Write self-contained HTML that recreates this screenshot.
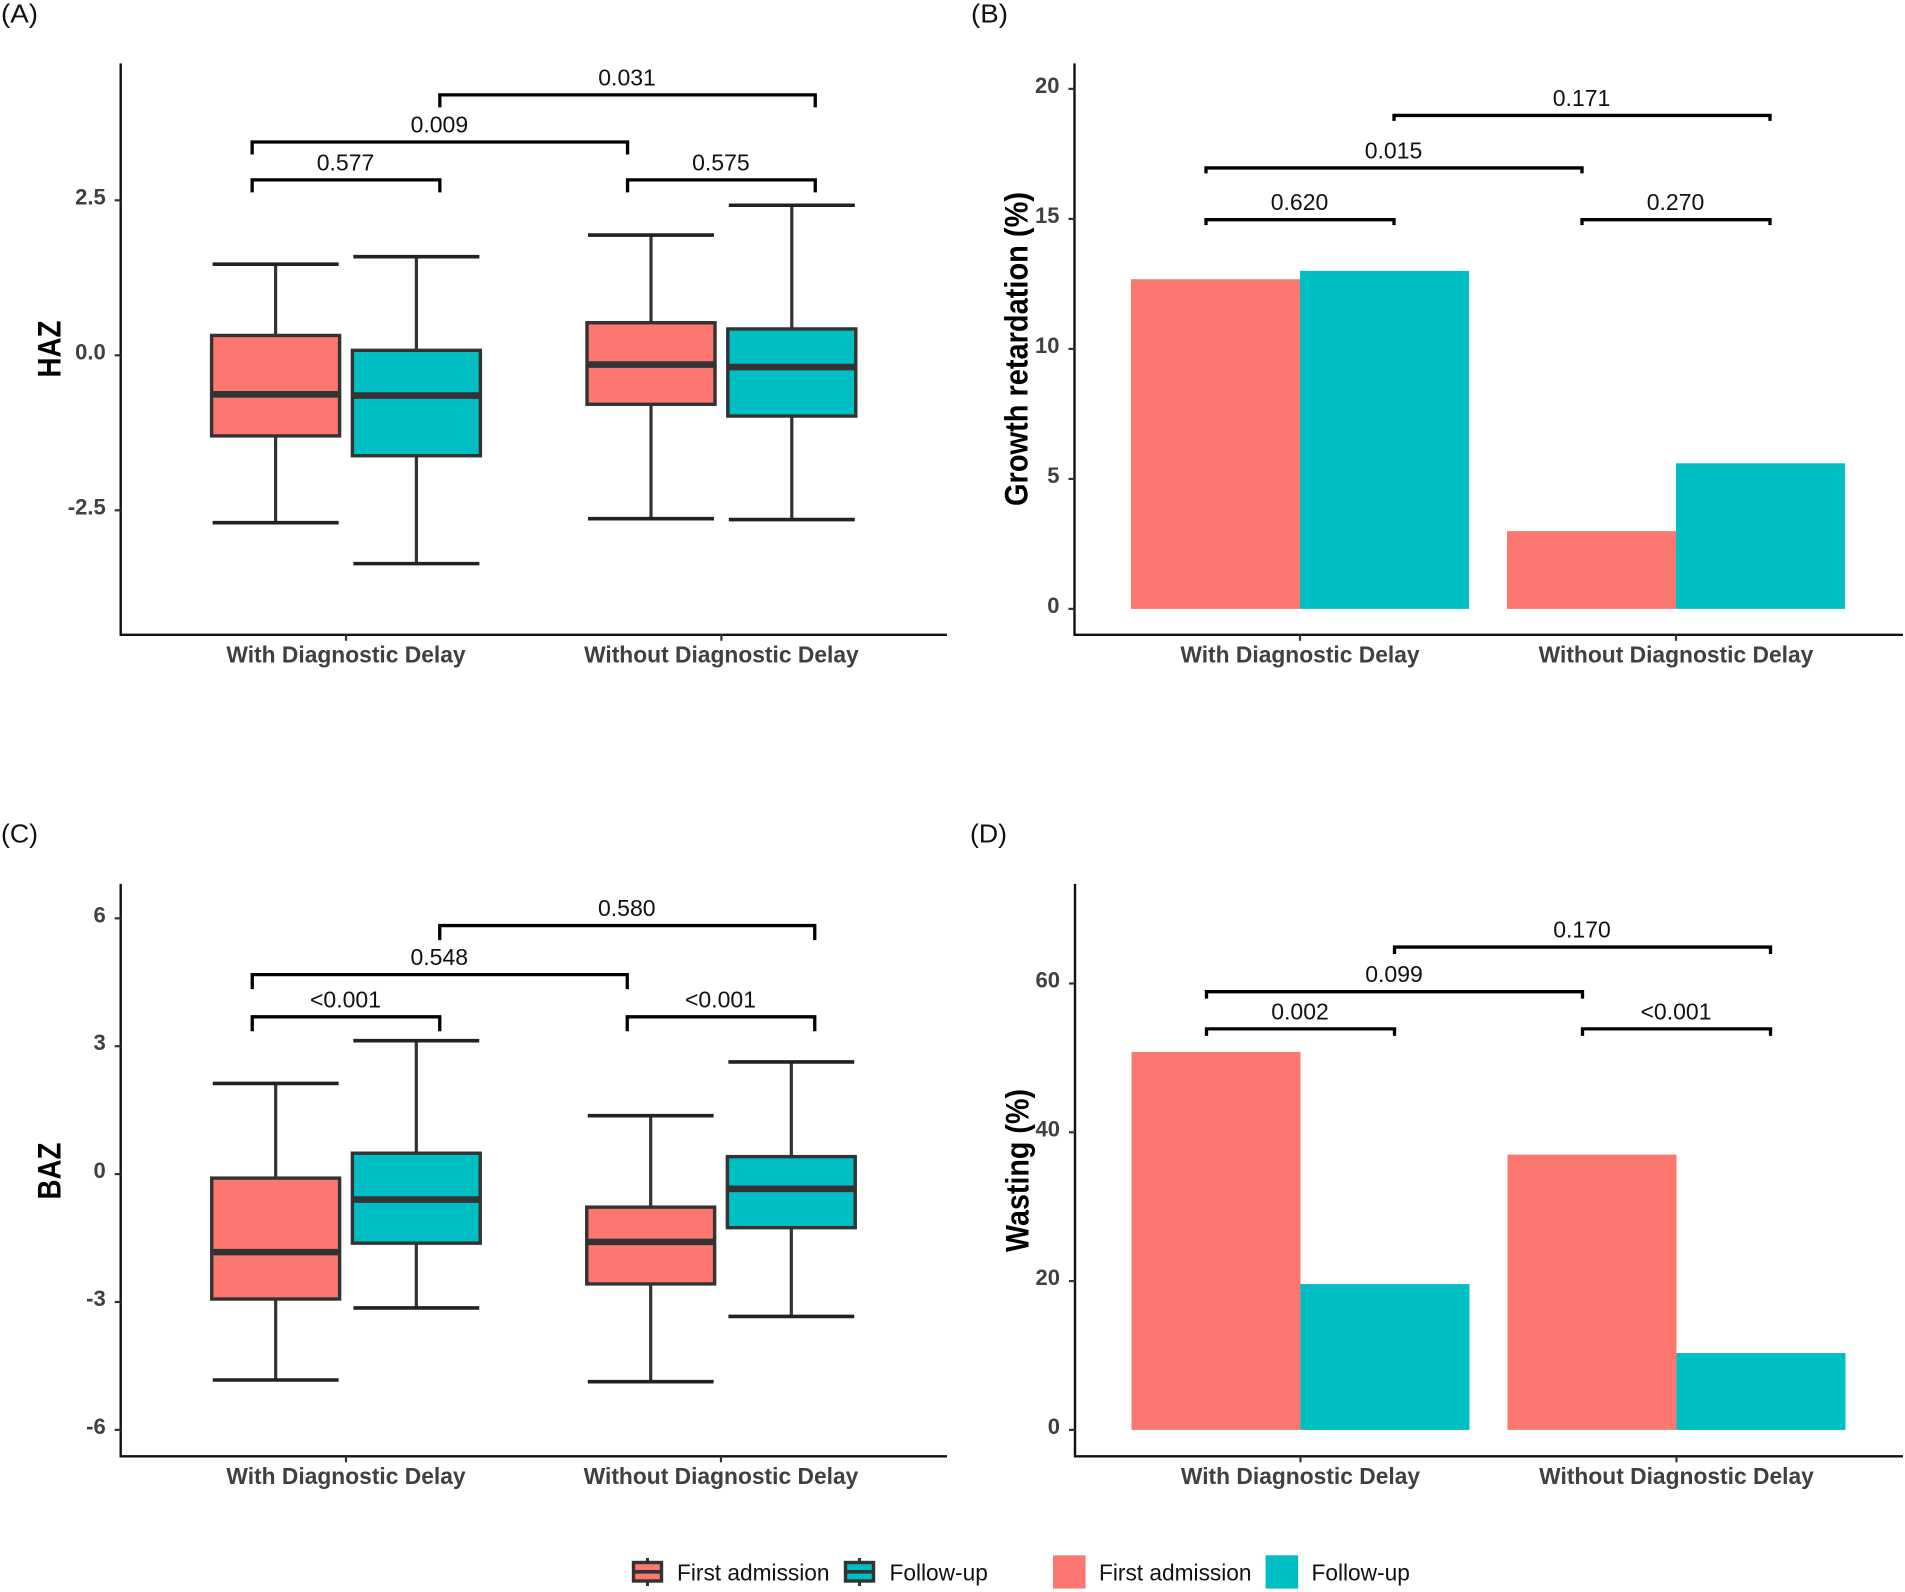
<!DOCTYPE html>
<html lang="en">
<head>
<meta charset="utf-8">
<title>Diagnostic delay anthropometry panels</title>
<style>
html,body{margin:0;padding:0;background:#fff;}
svg{display:block;}
text{font-family:"Liberation Sans",Arial,sans-serif;}
</style>
</head>
<body>
<svg id="figure" xmlns="http://www.w3.org/2000/svg" width="1905" height="1592" viewBox="0 0 1905 1592">
  <rect x="0" y="0" width="1905" height="1592" fill="#ffffff"/>
</svg>
<script>
// ---- shared categories and series ----
const categories = ["With Diagnostic Delay", "Without Diagnostic Delay"];
const seriesNames = ["First admission", "Follow-up"];
const seriesColors = ["#FB7770", "#00BFC4"];

// ---- Panel A: HAZ boxplots (order: with/first, with/follow, without/first, without/follow) ----
const hazWhiskerHigh = [1.47, 1.59, 1.94, 2.42];
const hazQ3 = [0.32, 0.08, 0.525, 0.425];
const hazMedian = [-0.63, -0.65, -0.15, -0.19];
const hazQ1 = [-1.30, -1.62, -0.79, -0.98];
const hazWhiskerLow = [-2.70, -3.36, -2.635, -2.65];
const hazTicks = [2.5, 0, -2.5];
const hazTickLabels = ["2.5", "0.0", "-2.5"];
const hazBracketLabels = ["0.031", "0.009", "0.577", "0.575"];
const hazBracketHeights = [4.2, 3.44, 2.83, 2.83];

// ---- Panel B: growth retardation bars ----
const growthFirst = [12.68, 2.99];
const growthFollow = [13.0, 5.6];
const growthTicks = [20, 15, 10, 5, 0];
const growthTickLabels = ["20", "15", "10", "5", "0"];
const growthBracketLabels = ["0.171", "0.015", "0.620", "0.270"];
const growthBracketHeights = [18.98, 16.96, 14.97, 14.97];

// ---- Panel C: BAZ boxplots ----
const bazWhiskerHigh = [2.126, 3.13, 1.37, 2.63];
const bazQ3 = [-0.094, 0.49, -0.775, 0.41];
const bazMedian = [-1.83, -0.597, -1.59, -0.346];
const bazQ1 = [-2.93, -1.62, -2.576, -1.257];
const bazWhiskerLow = [-4.83, -3.14, -4.87, -3.34];
const bazTicks = [6, 3, 0, -3, -6];
const bazTickLabels = ["6", "3", "0", "-3", "-6"];
const bazBracketLabels = ["0.580", "0.548", "<0.001", "<0.001"];
const bazBracketHeights = [5.83, 4.68, 3.69, 3.69];

// ---- Panel D: wasting bars ----
const wastingFirst = [50.8, 37.0];
const wastingFollow = [19.6, 10.33];
const wastingTicks = [60, 40, 20, 0];
const wastingTickLabels = ["60", "40", "20", "0"];
const wastingBracketLabels = ["0.170", "0.099", "0.002", "<0.001"];
const wastingBracketHeights = [64.9, 58.9, 53.9, 53.9];

// Bracket spans in category units (shared by all panels)
const bracketStarts = [1.25, 0.75, 0.75, 1.75];
const bracketEnds = [2.25, 1.75, 1.25, 2.25];

const SVG_NS = "http://www.w3.org/2000/svg";
const figure = document.getElementById("figure");
const DARK = "#333333";
const TICK_TEXT = "#404040";

function make(tag, attrs, parent) {
  const el = document.createElementNS(SVG_NS, tag);
  for (const k in attrs) el.setAttribute(k, attrs[k]);
  (parent || figure).appendChild(el);
  return el;
}

function drawFrame(p, g) {
  const axisY = make("line", {x1: p.axisX, x2: p.axisX, y1: p.top, y2: p.bottom + 1, stroke: "#111111", "stroke-width": 2.4}, g);
  
  
  const axisX = make("line", {x1: p.axisX - 1, x2: p.right, y1: p.bottom, y2: p.bottom, stroke: "#111111", "stroke-width": 2.4}, g);
  
  

  p.ticks.forEach(function (t, i) {
    const y = p.yScale(t);
    const tick = make("line", {x1: p.axisX - 6, x2: p.axisX, y1: y, y2: y, stroke: DARK, "stroke-width": 2.2}, g);
    
    
    const label = make("text", {x: p.axisX - 15, y: y + 4, "text-anchor": "end", "font-size": 22, "font-weight": "bold", fill: TICK_TEXT}, g);
    label.textContent = p.tickLabels[i];
    
    
  });

  categories.forEach(function (c, i) {
    const x = p.xScale(i + 1);
    const tick = make("line", {x1: x, x2: x, y1: p.bottom, y2: p.bottom + 6, stroke: DARK, "stroke-width": 2.2}, g);
    
    
    const label = make("text", {x: x, y: p.bottom + 27.5, "text-anchor": "middle", "font-size": 22.8, "font-weight": "bold", fill: TICK_TEXT}, g);
    label.textContent = c;
    
    
  });

  const title = make("text", {
    transform: "translate(" + p.titleX + "," + p.titleY + ") rotate(-90)",
    "text-anchor": "middle", "font-size": 32, "font-weight": "bold", fill: "#000000",
    textLength: p.titleLen, lengthAdjust: "spacingAndGlyphs"
  }, g);
  title.textContent = p.title;
  
  

  const tag = make("text", {x: p.tagX, y: p.tagY, "font-size": 26, fill: "#111111", textLength: 37, lengthAdjust: "spacingAndGlyphs"}, g);
  tag.textContent = p.tag;
  
  
}

function drawBrackets(p, g, labels, heights) {
  labels.forEach(function (txt, i) {
    const x1 = p.xScale(bracketStarts[i]);
    const x2 = p.xScale(bracketEnds[i]);
    const y = p.yScale(heights[i]);
    const path = make("path", {
      d: "M" + x1 + " " + (y + p.tip) + "V" + y + "H" + x2 + "V" + (y + p.tip),
      fill: "none", stroke: "#000000", "stroke-width": 3.3
    }, g);
    
    
    const label = make("text", {x: (x1 + x2) / 2 - 0.5, y: y - 9.5, "text-anchor": "middle", "font-size": 23, fill: "#111111"}, g);
    label.textContent = txt;
    
    
  });
}

function drawBoxes(p, g, high, q3, med, q1, low) {
  const unit = p.xScale(2) - p.xScale(1);
  const half = 0.1705 * unit;
  high.forEach(function (_, i) {
    const group = Math.floor(i / 2);
    const series = i % 2;
    const cx = p.xScale(group + 1 + (series === 0 ? -0.1875 : 0.1875));
    const box = make("g", {}, g);
    
    
    const whisker = make("line", {x1: cx, x2: cx, y1: p.yScale(high[i]), y2: p.yScale(low[i]), stroke: DARK, "stroke-width": 3.2}, box);
    
    
    const capTop = make("line", {x1: cx - half + 1, x2: cx + half - 1, y1: p.yScale(high[i]), y2: p.yScale(high[i]), stroke: "#222222", "stroke-width": 3.6}, box);
    
    
    const capLow = make("line", {x1: cx - half + 1, x2: cx + half - 1, y1: p.yScale(low[i]), y2: p.yScale(low[i]), stroke: "#222222", "stroke-width": 3.6}, box);
    
    
    const rect = make("rect", {
      x: cx - half, y: p.yScale(q3[i]), width: half * 2, height: p.yScale(q1[i]) - p.yScale(q3[i]),
      fill: seriesColors[series], stroke: DARK, "stroke-width": 3.4
    }, box);
    
    
    const median = make("line", {x1: cx - half, x2: cx + half, y1: p.yScale(med[i]), y2: p.yScale(med[i]), stroke: DARK, "stroke-width": 6.6}, box);
    
    
  });
}

function drawBars(p, g, first, follow) {
  [first, follow].forEach(function (values, s) {
    values.forEach(function (v, i) {
      const x1 = p.xScale(i + 1 + (s === 0 ? -0.4495 : 0));
      const x2 = p.xScale(i + 1 + (s === 0 ? 0 : 0.4495));
      const bar = make("rect", {x: x1, y: p.yScale(v), width: x2 - x1, height: p.yScale(0) - p.yScale(v), fill: seriesColors[s]}, g);
      
      
    });
  });
}

function linear(v0, px0, pxPerUnit) {
  return function (v) { return px0 - (v - v0) * pxPerUnit; };
}
function catScale(px1, pxPerUnit) {
  return function (c) { return px1 + (c - 1) * pxPerUnit; };
}

const panelA = {
  tag: "(A)", tagX: 1, tagY: 22.5, axisX: 120.7, top: 63.4, bottom: 634.8, right: 947,
  yScale: linear(0, 355.3, 62), xScale: catScale(346, 375.4), tip: 12.5,
  ticks: hazTicks, tickLabels: hazTickLabels, title: "HAZ", titleX: 60.5, titleY: 349, titleLen: 57
};
const panelB = {
  tag: "(B)", tagX: 971, tagY: 22.5, axisX: 1074.5, top: 63.4, bottom: 634.8, right: 1903,
  yScale: linear(0, 608.9, 26), xScale: catScale(1300, 376), tip: 5.4,
  ticks: growthTicks, tickLabels: growthTickLabels, title: "Growth retardation (%)", titleX: 1027.5, titleY: 349, titleLen: 314
};
const panelC = {
  tag: "(C)", tagX: 1, tagY: 842.5, axisX: 120.7, top: 883.9, bottom: 1456.3, right: 947,
  yScale: linear(0, 1174.1, 42.63), xScale: catScale(346, 375), tip: 14.5,
  ticks: bazTicks, tickLabels: bazTickLabels, title: "BAZ", titleX: 60.5, titleY: 1171, titleLen: 57
};
const panelD = {
  tag: "(D)", tagX: 970, tagY: 842.5, axisX: 1075, top: 883.9, bottom: 1456.3, right: 1903,
  yScale: linear(0, 1429.9, 7.44), xScale: catScale(1300.5, 376), tip: 7,
  ticks: wastingTicks, tickLabels: wastingTickLabels, title: "Wasting (%)", titleX: 1028.5, titleY: 1170.5, titleLen: 163
};

const groupA = make("g", {});


drawBoxes(panelA, groupA, hazWhiskerHigh, hazQ3, hazMedian, hazQ1, hazWhiskerLow);
drawFrame(panelA, groupA);
drawBrackets(panelA, groupA, hazBracketLabels, hazBracketHeights);

const groupB = make("g", {});


drawBars(panelB, groupB, growthFirst, growthFollow);
drawFrame(panelB, groupB);
drawBrackets(panelB, groupB, growthBracketLabels, growthBracketHeights);

const groupC = make("g", {});


drawBoxes(panelC, groupC, bazWhiskerHigh, bazQ3, bazMedian, bazQ1, bazWhiskerLow);
drawFrame(panelC, groupC);
drawBrackets(panelC, groupC, bazBracketLabels, bazBracketHeights);

const groupD = make("g", {});


drawBars(panelD, groupD, wastingFirst, wastingFollow);
drawFrame(panelD, groupD);
drawBrackets(panelD, groupD, wastingBracketLabels, wastingBracketHeights);

// ---- Legends ----
const legendBox = make("g", {});


[633.5, 845.5].forEach(function (x, s) {
  const w = make("line", {x1: x + 14, x2: x + 14, y1: 1558, y2: 1586, stroke: DARK, "stroke-width": 3}, legendBox);
  
  
  const r = make("rect", {x: x, y: 1562.5, width: 28, height: 18.5, fill: seriesColors[s], stroke: DARK, "stroke-width": 3.4}, legendBox);
  
  
  const m = make("line", {x1: x, x2: x + 28, y1: 1571.8, y2: 1571.8, stroke: DARK, "stroke-width": 3.6}, legendBox);
  
  
});
[677, 889.5].forEach(function (x, s) {
  const t = make("text", {x: x, y: 1580.5, "font-size": 22.7, fill: "#111111"}, legendBox);
  t.textContent = seriesNames[s];
  
  
});

const legendBar = make("g", {});


[1053, 1265.6].forEach(function (x, s) {
  const r = make("rect", {x: x, y: 1555.3, width: 32.6, height: 33.3, fill: seriesColors[s]}, legendBar);
  
  
});
[1099, 1311.5].forEach(function (x, s) {
  const t = make("text", {x: x, y: 1580.5, "font-size": 22.7, fill: "#111111"}, legendBar);
  t.textContent = seriesNames[s];
  
  
});
</script>
</body>
</html>
